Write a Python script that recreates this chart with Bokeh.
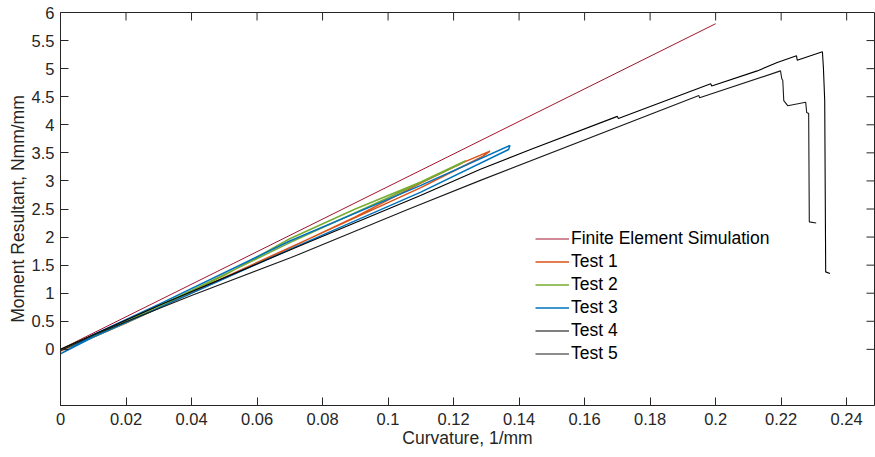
import math
from bokeh.plotting import figure
from bokeh.models import (FixedTicker, Range1d, Legend, LegendItem)
from bokeh.embed import file_html
from bokeh.resources import INLINE

# ---------------- data ----------------
fe_x = [0.0, 0.2]
fe_y = [0.0, 5.8]

t1_x = [0.0, 0.01, 0.03, 0.06, 0.09, 0.11, 0.123, 0.1311, 0.129, 0.11, 0.08, 0.05, 0.02, 0.0]
t1_y = [-0.03, 0.24, 0.74, 1.53, 2.36, 2.96, 3.33, 3.53, 3.44, 2.88, 2.08, 1.28, 0.47, -0.03]

t2_x = [0.0, 0.01, 0.029, 0.05, 0.07, 0.09, 0.11, 0.1237, 0.122, 0.10, 0.07, 0.04, 0.02, 0.0]
t2_y = [0.0, 0.22, 0.71, 1.32, 1.97, 2.50, 2.98, 3.36, 3.30, 2.70, 1.90, 1.05, 0.50, 0.0]

t3_x = [0.0, 0.01, 0.03, 0.07, 0.11, 0.1372, 0.1368, 0.11, 0.07, 0.03, 0.01, 0.0]
t3_y = [-0.08, 0.26, 0.80, 1.93, 2.92, 3.63, 3.56, 2.80, 1.78, 0.74, 0.22, -0.08]

t4_x = [0.0, 0.01, 0.03, 0.0733, 0.1099, 0.1282, 0.1435, 0.170, 0.1703, 0.1985, 0.1988,
        0.2127, 0.2188, 0.2247, 0.2249, 0.2326, 0.2329, 0.2333, 0.2336, 0.2349]
t4_y = [0.0, 0.26, 0.78, 1.85, 2.74, 3.21, 3.56, 4.15, 4.11, 4.73, 4.69,
        4.96, 5.11, 5.23, 5.15, 5.30, 5.02, 4.43, 1.38, 1.35]

t5_x = [0.0, 0.01, 0.02, 0.04, 0.0702, 0.106, 0.1282, 0.1949, 0.1951, 0.2198,
        0.2202, 0.2205, 0.2208, 0.2220, 0.2275, 0.2278, 0.2284, 0.2286, 0.2307]
t5_y = [-0.02, 0.25, 0.49, 0.96, 1.63, 2.49, 3.01, 4.52, 4.48, 4.96,
        4.82, 4.79, 4.43, 4.34, 4.40, 4.22, 4.20, 2.27, 2.25]

series_names = ["Finite Element Simulation", "Test 1", "Test 2", "Test 3", "Test 4", "Test 5"]
series_colors = ["#A2142F", "#D95319", "#77AC30", "#0072BD", "#000000", "#1A1A1A"]

x_ticks = [0.0, 0.02, 0.04, 0.06, 0.08, 0.1, 0.12, 0.14, 0.16, 0.18, 0.2, 0.22, 0.24]
x_tick_labels = ["0", "0.02", "0.04", "0.06", "0.08", "0.1", "0.12", "0.14", "0.16",
                 "0.18", "0.2", "0.22", "0.24"]
y_ticks = [0, 0.5, 1, 1.5, 2, 2.5, 3, 3.5, 4, 4.5, 5, 5.5, 6]
y_tick_labels = ["0", "0.5", "1", "1.5", "2", "2.5", "3", "3.5", "4", "4.5", "5", "5.5", "6"]

x_lim = (0.0, 0.2485)
y_lim = (-1.0, 6.0)

# ---------------- figure ----------------
FONT = "Liberation Sans"
TXT = "#262626"

p = figure(width=875, height=457, x_range=Range1d(*x_lim), y_range=Range1d(*y_lim),
           output_backend="svg", toolbar_location=None,
           min_border_left=60, min_border_right=1, min_border_top=12, min_border_bottom=52,
           background_fill_color="white", border_fill_color="white")
p.xgrid.visible = False
p.ygrid.visible = False
p.outline_line_color = TXT
p.outline_line_width = 1

TICK_LEN = 8

def style_axis(ax, ticks, labels):
    ax.ticker = FixedTicker(ticks=ticks)
    ax.major_label_overrides = {t: l for t, l in zip(ticks, labels)}
    ax.major_tick_in = TICK_LEN
    ax.major_tick_out = 0
    ax.minor_tick_in = 0
    ax.minor_tick_out = 0
    ax.axis_line_color = TXT
    ax.major_tick_line_color = TXT
    ax.major_label_text_font = FONT
    ax.major_label_text_color = TXT
    ax.major_label_text_font_size = "16.5px"
    ax.axis_label_text_font = FONT
    ax.axis_label_text_font_size = "17.5px"
    ax.axis_label_text_font_style = "normal"
    ax.axis_label_text_color = TXT

xa = p.xaxis[0]
ya = p.yaxis[0]
style_axis(xa, x_ticks, x_tick_labels)
style_axis(ya, y_ticks, y_tick_labels)
xa.major_label_standoff = 7
ya.major_label_standoff = 6
xa.axis_label = "Curvature, 1/mm"
ya.axis_label = "Moment Resultant, Nmm/mm"
xa.axis_label_standoff = 0
ya.axis_label_standoff = 1

# mirrored box ticks on the top and right edges (screen-length rays)
p.ray(x=x_ticks, y=[y_lim[1]] * len(x_ticks), length=TICK_LEN, length_units="screen",
      angle=-math.pi / 2, line_color=TXT, line_width=1)
p.ray(x=[x_lim[1]] * len(y_ticks), y=y_ticks, length=TICK_LEN, length_units="screen",
      angle=math.pi, line_color=TXT, line_width=1)

xs = [fe_x, t1_x, t2_x, t3_x, t4_x, t5_x]
ys = [fe_y, t1_y, t2_y, t3_y, t4_y, t5_y]
widths = [1.0, 1.5, 1.5, 1.5, 1.1, 1.1]
items = []
for xv, yv, name, col, w in zip(xs, ys, series_names, series_colors, widths):
    r = p.line(xv, yv, line_color=col, line_width=w)
    items.append(LegendItem(label=name, renderers=[r]))

legend = Legend(items=items, location=(473, 39), orientation="vertical")
legend.label_text_font = FONT
legend.label_text_font_size = "17.5px"
legend.label_text_color = "#000000"
legend.label_height = 19
legend.glyph_height = 19
legend.glyph_width = 34
legend.label_standoff = 2
legend.spacing = 2
legend.padding = 2
legend.margin = 0
legend.border_line_alpha = 0
legend.background_fill_alpha = 0
p.add_layout(legend, "center")

open("out.html", "w").write(file_html(p, INLINE))
